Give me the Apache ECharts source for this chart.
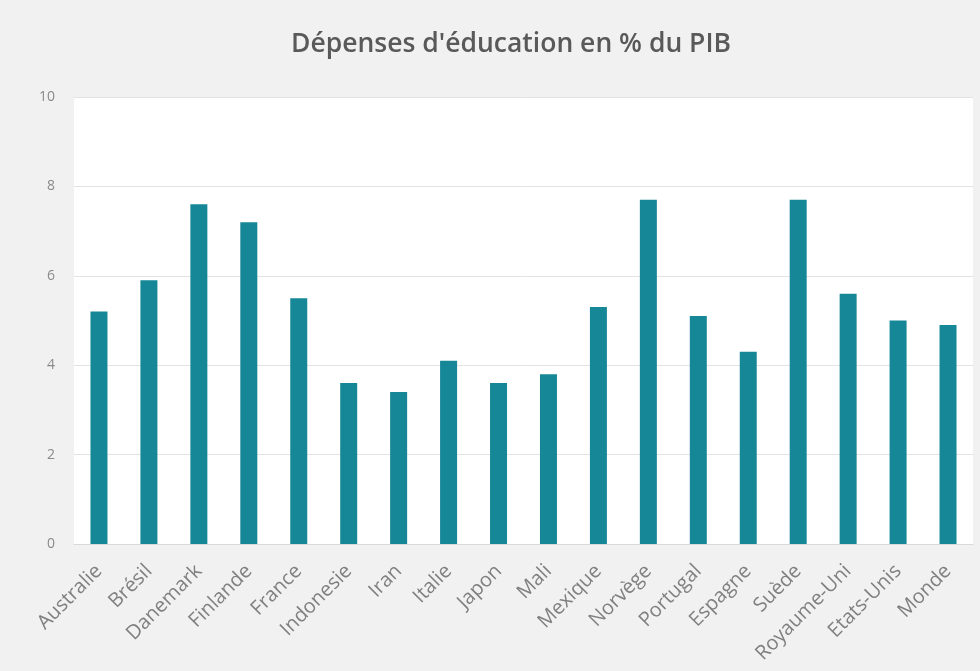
<!DOCTYPE html>
<html>
<head>
<meta charset="utf-8">
<script src="https://cdn.jsdelivr.net/npm/echarts@6/dist/echarts.min.js"></script>
<style>
html,body{margin:0;padding:0;background:#f1f1f1;}
#chart{width:980px;height:671px;}
</style>
</head>
<body>
<div id="chart"></div>
<script>
const titleText = "Dépenses d'éducation en % du PIB";
const categories = ["Australie","Brésil","Danemark","Finlande","France","Indonesie","Iran","Italie","Japon","Mali","Mexique","Norvège","Portugal","Espagne","Suède","Royaume-Uni","Etats-Unis","Monde"];
const values = [5.2,5.9,7.6,7.2,5.5,3.6,3.4,4.1,3.6,3.8,5.3,7.7,5.1,4.3,7.7,5.6,5.0,4.9];
const yTicks = {min:0,max:10,interval:2};

const chart = echarts.init(document.getElementById('chart'));
chart.setOption({
  backgroundColor:'#f1f1f1',
  animation:false,
  title:{
    text:titleText,
    left:506,
    textAlign:'center',
    top:26,
    textStyle:{fontFamily:'Open Sans',fontSize:26.5,fontWeight:600,color:'#595959'}
  },
  grid:{left:74,right:7,top:97,bottom:127,backgroundColor:'#ffffff',show:true,borderWidth:0},
  xAxis:{
    type:'category',
    data:categories,
    axisLine:{lineStyle:{color:'#d9d9d9'}},
    axisTick:{show:false},
    axisLabel:{rotate:45,fontFamily:'Open Sans',fontSize:20,color:'#808080',margin:24,interval:0}
  },
  yAxis:{
    type:'value',
    min:yTicks.min,max:yTicks.max,interval:yTicks.interval,
    axisLine:{show:false},
    axisTick:{show:false},
    splitLine:{lineStyle:{color:'#e3e3e3'}},
    axisLabel:{fontFamily:'Open Sans',fontSize:14,color:'#8a8a8a',margin:19}
  },
  series:[{
    type:'bar',
    data:values,
    barWidth:17,
    itemStyle:{color:'#168797'}
  }]
});
</script>
</body>
</html>
